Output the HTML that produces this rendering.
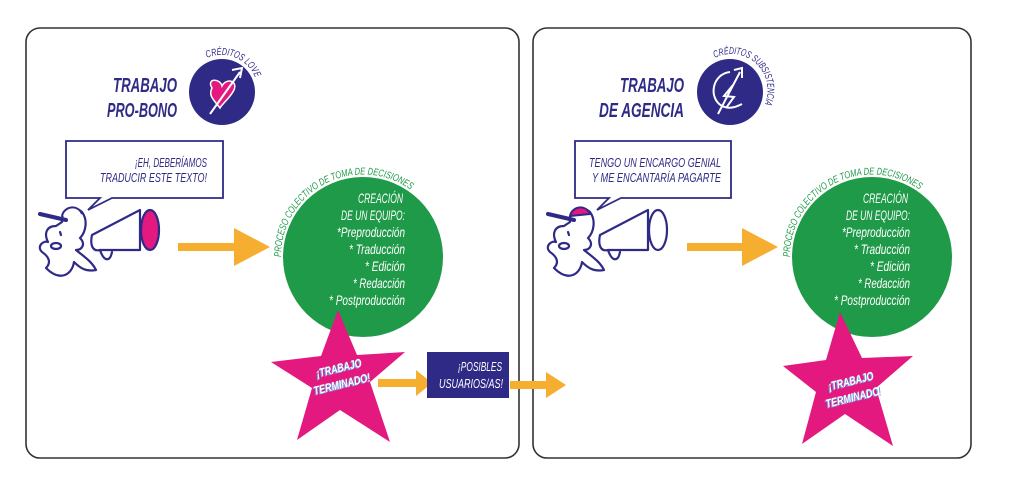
<!DOCTYPE html>
<html><head><meta charset="utf-8"><style>
html,body{margin:0;padding:0;background:#fff;width:1024px;height:484px;overflow:hidden}
svg{display:block}
text{font-family:"Liberation Sans",sans-serif}
</style></head><body>
<svg width="1024" height="484" viewBox="0 0 1024 484" xmlns="http://www.w3.org/2000/svg">
<defs>
<path id="g1" d="M281,257 A82,82 0 0 1 411,190"/>
<path id="g2" d="M790,257 A82,82 0 0 1 920,190"/>
<path id="l1" d="M207,58 A36,36 0 0 1 256,80"/>
<path id="l2" d="M715,58 A36,36 0 0 1 760,112"/>
<g id="person" fill="none" stroke="#2e2a86" stroke-width="2.2" stroke-linejoin="round" stroke-linecap="round">
<path d="M62,222 C60,210 75,205 82,212 C88,220 86,232 80,238 C86,244 82,250 76,250 C86,258 92,262 96,270 C86,272 80,268 74,262 C72,275 60,282 46,268 C52,262 48,256 42,252 C36,246 44,240 48,242 C44,234 46,226 56,226 Z"/>
<path d="M40,214 L66,220" stroke-width="4"/>
<ellipse cx="56" cy="246" rx="5" ry="3"/>
<path d="M60,232 l1,3"/>
<path d="M92,235 L140,210 L140,250 L100,250 C92,252 90,244 92,235 Z"/>
<path d="M100,250 C104,262 110,262 112,252"/>
</g>
</defs>

<rect x="26" y="28" width="493" height="430" rx="14" fill="none" stroke="#333" stroke-width="1.6"/>
<rect x="533" y="28" width="438" height="430" rx="14" fill="none" stroke="#333" stroke-width="1.6"/>

<g font-weight="bold" font-style="italic" fill="#2e2a86" font-size="20" text-anchor="end">
<text x="177" y="92" textLength="64" lengthAdjust="spacingAndGlyphs">TRABAJO</text>
<text x="177" y="117" textLength="70" lengthAdjust="spacingAndGlyphs">PRO-BONO</text>
<text x="684" y="92" textLength="64" lengthAdjust="spacingAndGlyphs">TRABAJO</text>
<text x="684" y="117" textLength="85" lengthAdjust="spacingAndGlyphs">DE AGENCIA</text>
</g>
<circle cx="222" cy="92" r="33" fill="#2e2a86"/>
<path d="M212,88 C206,78 220,78 222,86 C226,78 238,80 234,90 C230,98 222,104 220,108 C214,100 208,96 212,88Z" fill="#e4197f" stroke="#fff" stroke-width="1.5"/>
<path d="M210,114 L240,72 M232,70 L242,68 L240,78" stroke="#fff" stroke-width="2" fill="none"/>
<text font-size="10" fill="#2e2a86" font-style="italic"><textPath href="#l1" textLength="58" lengthAdjust="spacingAndGlyphs">CRÉDITOS LOVE</textPath></text>

<circle cx="730" cy="92" r="33" fill="#2e2a86"/>
<path d="M730,72 C712,74 708,98 722,106 C730,110 738,106 742,104 M733,85 L724,96 L734,97 L726,108 M718,114 L740,72 M734,70 L742,68 L742,78" stroke="#fff" stroke-width="2" fill="none"/>
<text font-size="10" fill="#2e2a86" font-style="italic"><textPath href="#l2" textLength="88" lengthAdjust="spacingAndGlyphs">CRÉDITOS SUBSISTENCIA</textPath></text>

<g fill="#fff" stroke="#2e2a86" stroke-width="1.8">
<path d="M66,141 H223 V198 H112 L88,210 L100,198 H66 Z"/>
<path d="M575,141 H731 V198 H621 L597,210 L609,198 H575 Z"/>
</g>
<g font-size="12.5" font-style="italic" fill="#2e2a86" text-anchor="end">
<text x="207" y="167" textLength="72" lengthAdjust="spacingAndGlyphs">¡EH, DEBERÍAMOS</text>
<text x="207" y="182" textLength="107" lengthAdjust="spacingAndGlyphs">TRADUCIR ESTE TEXTO!</text>
<text x="721" y="167" textLength="132" lengthAdjust="spacingAndGlyphs">TENGO UN ENCARGO GENIAL</text>
<text x="721" y="182" textLength="129" lengthAdjust="spacingAndGlyphs">Y ME ENCANTARÍA PAGARTE</text>
</g>

<use href="#person"/>
<ellipse cx="150" cy="230" rx="9" ry="20" fill="#e4197f" stroke="#2e2a86" stroke-width="2.2"/>
<path d="M62,216 C64,206 78,204 82,214" fill="#fff" stroke="#2e2a86" stroke-width="2"/>
<g transform="translate(508,0)">
<use href="#person"/>
<ellipse cx="150" cy="230" rx="9" ry="20" fill="#fff" stroke="#2e2a86" stroke-width="2.2"/>
<path d="M62,216 C64,206 78,204 82,214 Z" fill="#e4197f" stroke="#2e2a86" stroke-width="2"/>
</g>

<g fill="#f5ae2f">
<path d="M178,243 H234 V228 L270,247 L234,266 V251 H178 Z"/>
<path d="M687,243 H742 V228 L778,247 L742,266 V251 H687 Z"/>
<path d="M378,379 H416 V370 L432,383 L416,396 V387 H378 Z"/>
<path d="M510,381 H546 V372 L566,385 L546,398 V389 H510 Z"/>
</g>

<circle cx="363" cy="257" r="80" fill="#1f9a48"/>
<circle cx="872" cy="257" r="80" fill="#1f9a48"/>
<text font-size="10" fill="#1f9a48" font-style="italic"><textPath href="#g1" textLength="180" lengthAdjust="spacingAndGlyphs">PROCESO COLECTIVO DE TOMA DE DECISIONES</textPath></text>
<text font-size="10" fill="#1f9a48" font-style="italic"><textPath href="#g2" textLength="180" lengthAdjust="spacingAndGlyphs">PROCESO COLECTIVO DE TOMA DE DECISIONES</textPath></text>
<g font-size="14" font-style="italic" fill="#fff" text-anchor="end" lengthAdjust="spacingAndGlyphs">
<text x="403" y="203" textLength="45" lengthAdjust="spacingAndGlyphs">CREACIÓN</text>
<text x="405" y="220" textLength="64" lengthAdjust="spacingAndGlyphs">DE UN EQUIPO:</text>
<text x="405" y="237" textLength="68" lengthAdjust="spacingAndGlyphs">*Preproducción</text>
<text x="405" y="254" textLength="56" lengthAdjust="spacingAndGlyphs">* Traducción</text>
<text x="405" y="271" textLength="40" lengthAdjust="spacingAndGlyphs">* Edición</text>
<text x="405" y="288" textLength="52" lengthAdjust="spacingAndGlyphs">* Redacción</text>
<text x="405" y="305" textLength="76" lengthAdjust="spacingAndGlyphs">* Postproducción</text>
<text x="908" y="203" textLength="45" lengthAdjust="spacingAndGlyphs">CREACIÓN</text>
<text x="910" y="220" textLength="64" lengthAdjust="spacingAndGlyphs">DE UN EQUIPO:</text>
<text x="910" y="237" textLength="68" lengthAdjust="spacingAndGlyphs">*Preproducción</text>
<text x="910" y="254" textLength="56" lengthAdjust="spacingAndGlyphs">* Traducción</text>
<text x="910" y="271" textLength="40" lengthAdjust="spacingAndGlyphs">* Edición</text>
<text x="910" y="288" textLength="52" lengthAdjust="spacingAndGlyphs">* Redacción</text>
<text x="910" y="305" textLength="76" lengthAdjust="spacingAndGlyphs">* Postproducción</text>
</g>

<g fill="#e4197f">
<polygon points="338,310 357,355 405,352 370,382 390,442 340,410 297,440 312,388 271,362 321,356" />
<polygon points="840,312 862,358 913,356 876,388 893,446 845,414 802,444 816,392 783,366 826,360"/>
</g>
<g font-size="12" font-weight="bold" font-style="italic" text-anchor="middle">
<g fill="#6aa8ee">
<text transform="translate(339,373) rotate(-14)" textLength="46" lengthAdjust="spacingAndGlyphs">¡TRABAJO</text>
<text transform="translate(342,389) rotate(-14)" textLength="58" lengthAdjust="spacingAndGlyphs">TERMINADO!</text>
<text transform="translate(851,386) rotate(-14)" textLength="46" lengthAdjust="spacingAndGlyphs">¡TRABAJO</text>
<text transform="translate(854,402) rotate(-14)" textLength="58" lengthAdjust="spacingAndGlyphs">TERMINADO!</text>
</g>
<g fill="#fff">
<text transform="translate(340,372) rotate(-14)" textLength="46" lengthAdjust="spacingAndGlyphs">¡TRABAJO</text>
<text transform="translate(343,388) rotate(-14)" textLength="58" lengthAdjust="spacingAndGlyphs">TERMINADO!</text>
<text transform="translate(852,385) rotate(-14)" textLength="46" lengthAdjust="spacingAndGlyphs">¡TRABAJO</text>
<text transform="translate(855,401) rotate(-14)" textLength="58" lengthAdjust="spacingAndGlyphs">TERMINADO!</text>
</g>
</g>

<rect x="427" y="352" width="82" height="46" fill="#2e2a86"/>
<g font-size="13" font-style="italic" fill="#fff" text-anchor="end">
<text x="502" y="371" textLength="44" lengthAdjust="spacingAndGlyphs">¡POSIBLES</text>
<text x="503" y="388" textLength="64" lengthAdjust="spacingAndGlyphs">USUARIOS/AS!</text>
</g>
</svg>
</body></html>
